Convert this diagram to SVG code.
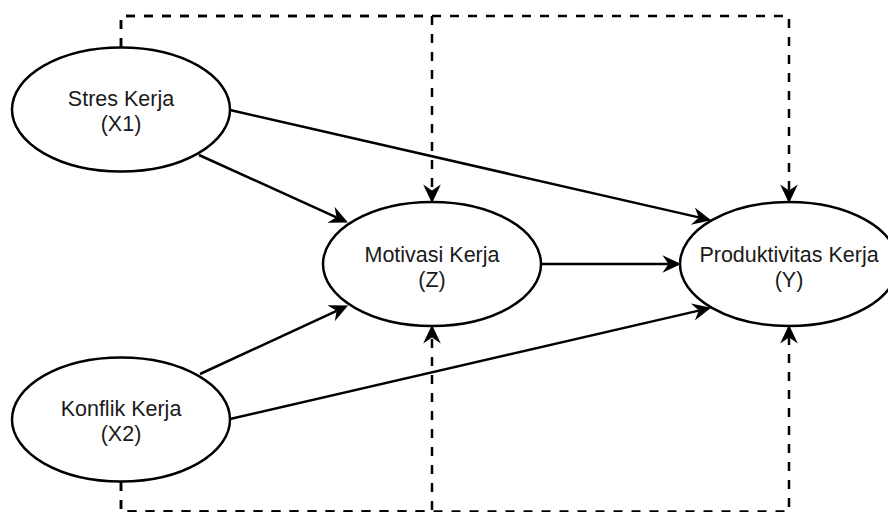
<svg xmlns="http://www.w3.org/2000/svg" width="888" height="512" viewBox="0 0 888 512">
  <style>
    .node ellipse { fill: #ffffff; stroke: #000000; stroke-width: 2.5; }
    .node text { font-family: "Liberation Sans", Arial, sans-serif; font-size: 21.5px; fill: #1a1a1a; text-anchor: middle; }
    .edge { fill: none; stroke: #000000; stroke-width: 2.5; marker-end: url(#arrow); }
    .dashed { stroke-dasharray: 9 9; }
  </style>
  <defs>
    <marker id="arrow" markerUnits="userSpaceOnUse" markerWidth="22" markerHeight="22" viewBox="0 -10 20 20" refX="5.5" refY="0" orient="auto">
      <path d="M0,-8 L17,0 L0,8 L5.5,0 Z" fill="#000000"/>
    </marker>
  </defs>
  <rect width="888" height="512" fill="#ffffff"/>

  <g id="connectors">
    <path class="edge dashed" d="M121,47 V16 H432 V190.5"/>
    <path class="edge dashed" d="M121,47 V16 H789 V190.5"/>
    <path class="edge dashed" d="M121,482 V511.5 H432 V337.5"/>
    <path class="edge dashed" d="M121,482 V511.5 H789 V337.5"/>
    <path class="edge" d="M199,155 L336.5,217.3"/>
    <path class="edge" d="M230,110 L698.8,217.4"/>
    <path class="edge" d="M541,264 L668.5,264"/>
    <path class="edge" d="M200,374 L336.6,310.8"/>
    <path class="edge" d="M230,419 L698.8,310.6"/>
  </g>

  <g id="node-x1" class="node">
    <ellipse cx="121" cy="109.5" rx="109" ry="62"/>
    <text x="121" y="106">Stres Kerja</text>
    <text x="121" y="131">(X1)</text>
  </g>
  <g id="node-x2" class="node">
    <ellipse cx="121" cy="419.5" rx="109" ry="62"/>
    <text x="121" y="416">Konflik Kerja</text>
    <text x="121" y="441">(X2)</text>
  </g>
  <g id="node-z" class="node">
    <ellipse cx="432" cy="264" rx="109" ry="62"/>
    <text x="432" y="262">Motivasi Kerja</text>
    <text x="432" y="287">(Z)</text>
  </g>
  <g id="node-y" class="node">
    <ellipse cx="789" cy="264" rx="109" ry="62"/>
    <text x="789" y="262">Produktivitas Kerja</text>
    <text x="789" y="287">(Y)</text>
  </g>
</svg>
